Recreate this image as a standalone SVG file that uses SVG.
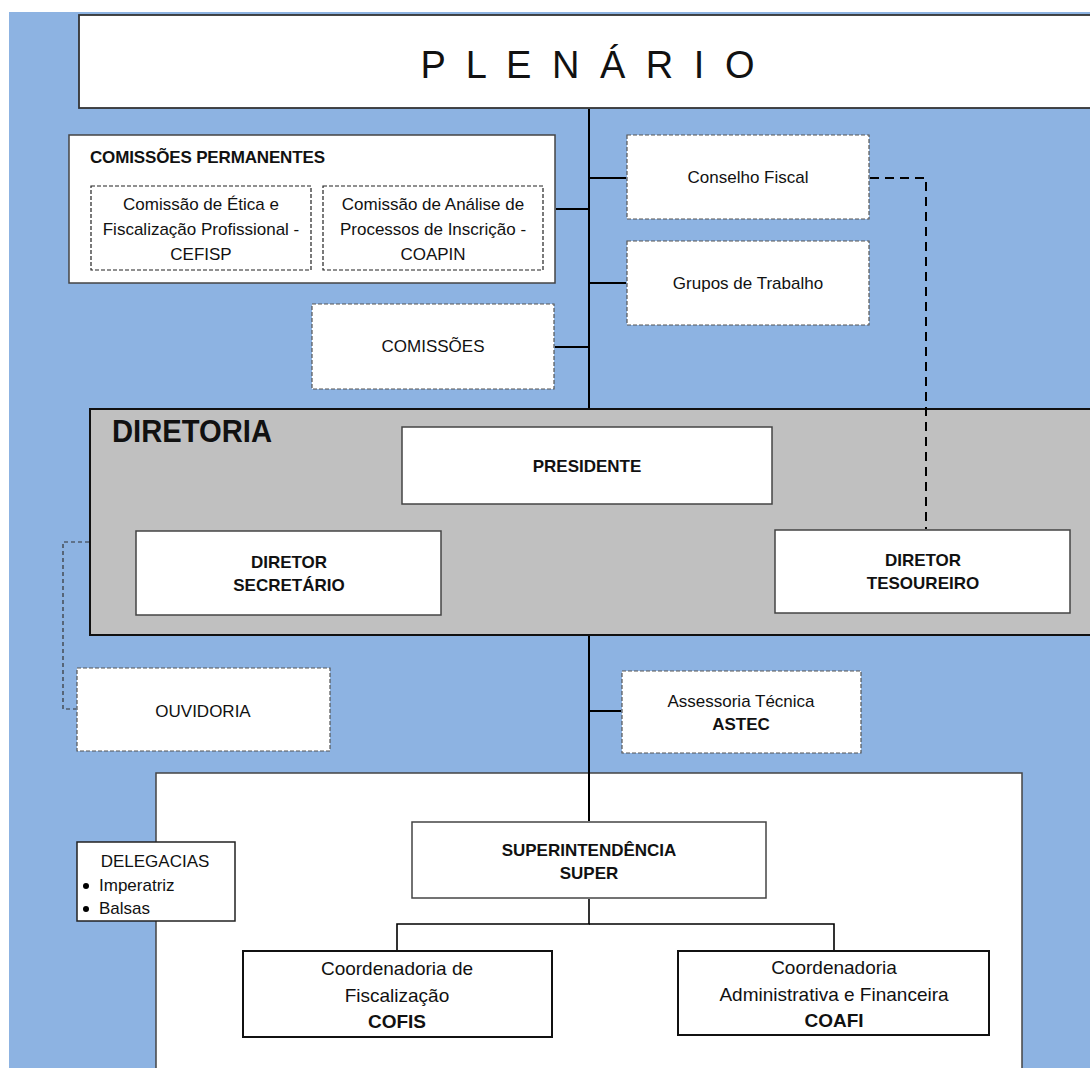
<svg xmlns="http://www.w3.org/2000/svg" width="1090" height="1068" viewBox="0 0 1090 1068">
<style>
text{font-family:"Liberation Sans",Arial,sans-serif;fill:#111;}
.t{font-size:17px;text-anchor:middle;}
.b{font-weight:bold;}
.box{fill:#fff;stroke:#444;stroke-width:1.5;}
.dbox{fill:#fff;stroke:#555;stroke-width:1.2;stroke-dasharray:4 2;}
.ln{stroke:#000;stroke-width:2;fill:none;}
</style>
<rect x="0" y="0" width="1090" height="1068" fill="#fff"/>
<rect x="9" y="12" width="1081" height="1056" fill="#8DB3E2"/>

<g id="area-super">
<rect x="156" y="773" width="866" height="300" class="box"/>
</g>

<g id="plenario">
<rect x="79" y="15" width="1020" height="93" fill="#fff" stroke="#333" stroke-width="1.8"/>
<text x="590" y="78" style="font-size:38px;text-anchor:middle;letter-spacing:5px">P L E N Á R I O</text>
</g>

<g id="comissoes-permanentes">
<rect x="69" y="135" width="486" height="148" class="box"/>
<text x="90" y="163" class="b" style="font-size:17px" textLength="235">COMISSÕES PERMANENTES</text>
</g>
<g id="cefisp">
<rect x="91" y="186" width="220" height="84" class="dbox" style="stroke:#222"/>
<text class="t" x="201" y="210">Comissão de Ética e</text>
<text class="t" x="201" y="235">Fiscalização Profissional -</text>
<text class="t" x="201" y="260">CEFISP</text>
</g>
<g id="coapin">
<rect x="323" y="186" width="220" height="84" class="dbox" style="stroke:#222"/>
<text class="t" x="433" y="210">Comissão de Análise de</text>
<text class="t" x="433" y="235">Processos de Inscrição -</text>
<text class="t" x="433" y="260">COAPIN</text>
</g>

<g id="conselho-fiscal">
<rect x="627" y="135" width="242" height="84" class="dbox"/>
<text class="t" x="748" y="183">Conselho Fiscal</text>
</g>
<g id="grupos-trabalho">
<rect x="627" y="241" width="242" height="84" class="dbox"/>
<text class="t" x="748" y="289">Grupos de Trabalho</text>
</g>
<g id="comissoes">
<rect x="312" y="304" width="242" height="85" class="dbox"/>
<text class="t" x="433" y="352">COMISSÕES</text>
</g>

<g id="diretoria">
<rect x="90" y="409" width="1001" height="226" fill="#C0C0C0" stroke="#111" stroke-width="2"/>
<text x="112" y="442" class="b" style="font-size:32px" textLength="160" lengthAdjust="spacingAndGlyphs">DIRETORIA</text>
</g>
<g id="presidente">
<rect x="402" y="427" width="370" height="77" class="box"/>
<text class="t b" x="587" y="472">PRESIDENTE</text>
</g>
<g id="diretor-secretario">
<rect x="136" y="531" width="305" height="84" class="box"/>
<text class="t b" x="289" y="568">DIRETOR</text>
<text class="t b" x="289" y="591">SECRETÁRIO</text>
</g>
<g id="diretor-tesoureiro">
<rect x="775" y="530" width="295" height="83" class="box"/>
<text class="t b" x="923" y="566">DIRETOR</text>
<text class="t b" x="923" y="589">TESOUREIRO</text>
</g>

<g id="ouvidoria">
<rect x="77" y="668" width="253" height="83" class="dbox"/>
<text class="t" x="203" y="717">OUVIDORIA</text>
</g>
<g id="astec">
<rect x="622" y="671" width="239" height="82" class="dbox"/>
<text class="t" x="741" y="707">Assessoria Técnica</text>
<text class="t b" x="741" y="730">ASTEC</text>
</g>

<g id="delegacias">
<rect x="77" y="842" width="158" height="79" class="box" style="stroke:#222"/>
<text class="t" x="155" y="867">DELEGACIAS</text>
<circle cx="86" cy="886" r="3" fill="#000"/>
<text x="99" y="891" style="font-size:17px">Imperatriz</text>
<circle cx="86" cy="909" r="3" fill="#000"/>
<text x="99" y="914" style="font-size:17px">Balsas</text>
</g>

<g id="super">
<rect x="412" y="822" width="354" height="76" class="box"/>
<text class="t b" x="589" y="856">SUPERINTENDÊNCIA</text>
<text class="t b" x="589" y="879">SUPER</text>
</g>
<g id="cofis">
<rect x="243" y="951" width="309" height="86" fill="#fff" stroke="#111" stroke-width="2"/>
<text class="t" style="font-size:19px" x="397" y="975">Coordenadoria de</text>
<text class="t" style="font-size:19px" x="397" y="1002">Fiscalização</text>
<text class="t b" style="font-size:19px" x="397" y="1028">COFIS</text>
</g>
<g id="coafi">
<rect x="678" y="951" width="311" height="84" fill="#fff" stroke="#111" stroke-width="2"/>
<text class="t" style="font-size:19px" x="834" y="974">Coordenadoria</text>
<text class="t" style="font-size:19px" x="834" y="1001">Administrativa e Financeira</text>
<text class="t b" style="font-size:19px" x="834" y="1027">COAFI</text>
</g>

<g id="connectors">
<line class="ln" x1="589" y1="109" x2="589" y2="408"/>
<line class="ln" x1="556" y1="209" x2="589" y2="209"/>
<line class="ln" x1="589" y1="178" x2="626" y2="178"/>
<line class="ln" x1="589" y1="283" x2="626" y2="283"/>
<line class="ln" x1="555" y1="347" x2="589" y2="347"/>
<line class="ln" x1="589" y1="636" x2="589" y2="821"/>
<line class="ln" x1="589" y1="711" x2="621" y2="711"/>
<polyline class="ln" style="stroke-width:1.6" points="589,899 589,924 397,924 397,950"/>
<polyline class="ln" style="stroke-width:1.6" points="589,924 834,924 834,950"/>
<polyline fill="none" stroke="#000" stroke-width="2" stroke-dasharray="9 6" points="870,178 926,178 926,529"/>
<polyline fill="none" stroke="#333" stroke-width="1.2" stroke-dasharray="4 3" points="89,542 63,542 63,709 76,709"/>
</g>
</svg>
